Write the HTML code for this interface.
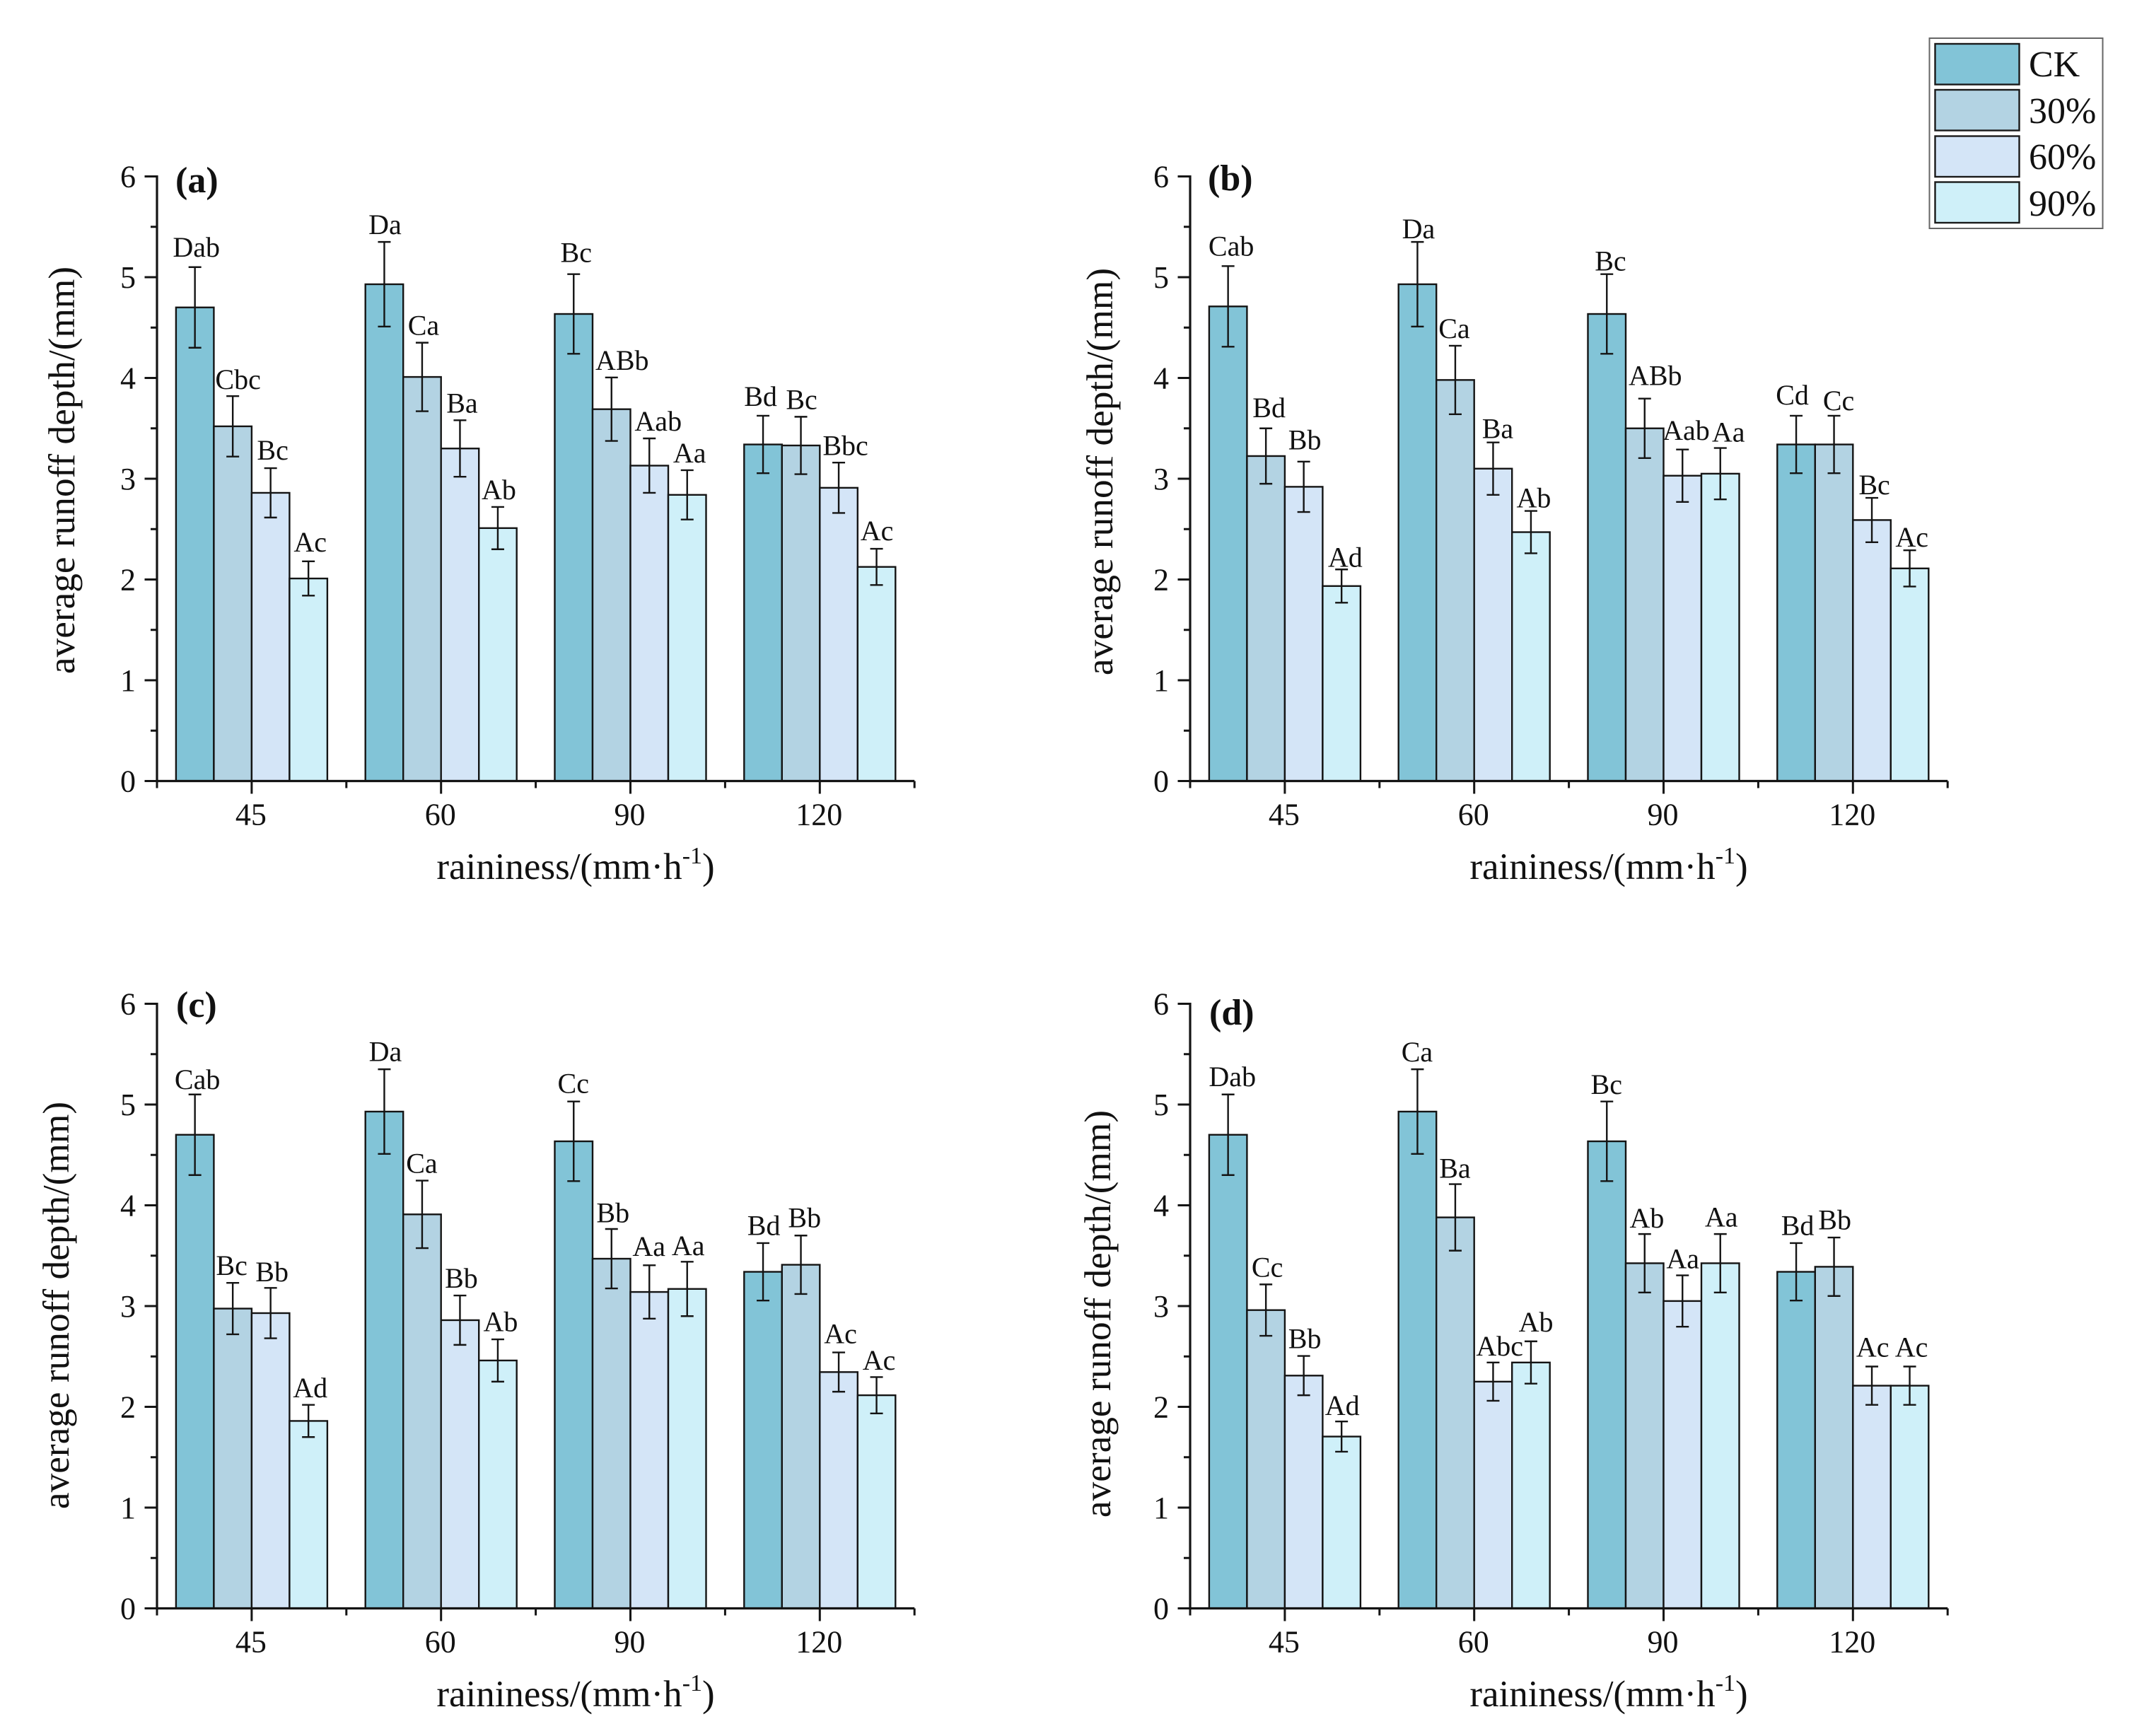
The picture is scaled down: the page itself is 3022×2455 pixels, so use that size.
<!DOCTYPE html>
<html lang="en">
<head>
<meta charset="utf-8">
<title>Average runoff depth by raininess</title>
<style>
html,body{margin:0;padding:0;background:#fff;width:3022px;height:2455px;overflow:hidden}
svg{display:block}
text{font-family:"Liberation Serif","DejaVu Serif",serif;fill:#111}
.tick{font-size:44px}
.mark{font-size:40px}
.title{font-size:53px}
.ytitle{font-size:53.3px}
.tag{font-size:52px;font-weight:bold}
.leg{font-size:52px}
</style>
</head>
<body>
<svg id="figure" xmlns="http://www.w3.org/2000/svg" width="3022" height="2455" viewBox="0 0 3022 2455">
  <rect width="3022" height="2455" fill="#fff"/>

  <g id="panel-a"></g>
  <g id="panel-b"></g>
  <g id="panel-c"></g>
  <g id="panel-d"></g>

  <text class="tag" x="248" y="272">(a)</text>
  <text class="tag" x="1708" y="269">(b)</text>
  <text class="tag" x="249" y="1438">(c)</text>
  <text class="tag" x="1710" y="1449">(d)</text>

  <text class="ytitle" text-anchor="middle" transform="translate(105,665) rotate(-90)">average runoff depth/(mm)</text>
  <text class="ytitle" text-anchor="middle" transform="translate(1573,667) rotate(-90)">average runoff depth/(mm)</text>
  <text class="ytitle" text-anchor="middle" transform="translate(97,1846) rotate(-90)">average runoff depth/(mm)</text>
  <text class="ytitle" text-anchor="middle" transform="translate(1570,1858) rotate(-90)">average runoff depth/(mm)</text>

  <text class="title" text-anchor="middle" x="814" y="1243">raininess/(mm·h<tspan font-size="34" dy="-22">-1</tspan><tspan dy="22">)</tspan></text>
  <text class="title" text-anchor="middle" x="2275" y="1243">raininess/(mm·h<tspan font-size="34" dy="-22">-1</tspan><tspan dy="22">)</tspan></text>
  <text class="title" text-anchor="middle" x="814" y="2413">raininess/(mm·h<tspan font-size="34" dy="-22">-1</tspan><tspan dy="22">)</tspan></text>
  <text class="title" text-anchor="middle" x="2275" y="2413">raininess/(mm·h<tspan font-size="34" dy="-22">-1</tspan><tspan dy="22">)</tspan></text>

  <g>
    <rect x="2728.5" y="54" width="245" height="269" fill="#fff" stroke="#666" stroke-width="2"/>
    <g>
      <rect x="2736.5" y="62" width="119" height="57.5" fill="#82c4d7" stroke="#1a1a1a" stroke-width="2.4"/>
      <text class="leg" x="2869" y="108">CK</text>
    </g>
    <g>
      <rect x="2736.5" y="127" width="119" height="57.5" fill="#b3d3e3" stroke="#1a1a1a" stroke-width="2.4"/>
      <text class="leg" x="2869" y="174">30%</text>
    </g>
    <g>
      <rect x="2736.5" y="192.5" width="119" height="57.5" fill="#d4e5f7" stroke="#1a1a1a" stroke-width="2.4"/>
      <text class="leg" x="2869" y="239">60%</text>
    </g>
    <g>
      <rect x="2736.5" y="257.5" width="119" height="57.5" fill="#cff0f9" stroke="#1a1a1a" stroke-width="2.4"/>
      <text class="leg" x="2869" y="305">90%</text>
    </g>
  </g>
</svg>

<script>
// Shared axis data
const categories = ["45", "60", "90", "120"];
const seriesNames = ["CK", "30%", "60%", "90%"];
const yTickLabels = [0, 1, 2, 3, 4, 5, 6];

// Each array has one row per rainfall category, one column per series (CK, 30%, 60%, 90%).
const valuesA = [[4.70, 3.52, 2.86, 2.01], [4.93, 4.01, 3.30, 2.51], [4.635, 3.69, 3.13, 2.84], [3.34, 3.33, 2.91, 2.125]];
const errorsA = [[0.40, 0.30, 0.245, 0.17], [0.42, 0.34, 0.28, 0.21], [0.395, 0.315, 0.27, 0.245], [0.285, 0.285, 0.25, 0.18]];
const lettersA = [["Dab", "Cbc", "Bc", "Ac"], ["Da", "Ca", "Ba", "Ab"], ["Bc", "ABb", "Aab", "Aa"], ["Bd", "Bc", "Bbc", "Ac"]];

const valuesB = [[4.71, 3.225, 2.92, 1.935], [4.93, 3.98, 3.10, 2.47], [4.635, 3.50, 3.03, 3.05], [3.34, 3.34, 2.59, 2.11]];
const errorsB = [[0.40, 0.275, 0.25, 0.165], [0.42, 0.34, 0.26, 0.21], [0.395, 0.295, 0.26, 0.255], [0.285, 0.285, 0.22, 0.18]];
const lettersB = [["Cab", "Bd", "Bb", "Ad"], ["Da", "Ca", "Ba", "Ab"], ["Bc", "ABb", "Aab", "Aa"], ["Cd", "Cc", "Bc", "Ac"]];

const valuesC = [[4.70, 2.975, 2.93, 1.86], [4.93, 3.91, 2.86, 2.46], [4.635, 3.47, 3.14, 3.17], [3.34, 3.41, 2.345, 2.115]];
const errorsC = [[0.40, 0.255, 0.25, 0.16], [0.42, 0.335, 0.245, 0.21], [0.395, 0.295, 0.265, 0.27], [0.285, 0.29, 0.195, 0.18]];
const lettersC = [["Cab", "Bc", "Bb", "Ad"], ["Da", "Ca", "Bb", "Ab"], ["Cc", "Bb", "Aa", "Aa"], ["Bd", "Bb", "Ac", "Ac"]];

const valuesD = [[4.70, 2.96, 2.31, 1.705], [4.93, 3.88, 2.25, 2.44], [4.635, 3.425, 3.05, 3.425], [3.34, 3.39, 2.21, 2.21]];
const errorsD = [[0.40, 0.255, 0.195, 0.15], [0.42, 0.33, 0.19, 0.21], [0.395, 0.29, 0.255, 0.29], [0.285, 0.29, 0.19, 0.19]];
const lettersD = [["Dab", "Cc", "Bb", "Ad"], ["Ca", "Ba", "Abc", "Ab"], ["Bc", "Ab", "Aa", "Aa"], ["Bd", "Bb", "Ac", "Ac"]];

// Layout only: how far each letter label sits from its error-bar cap.
const labelShiftA = [[[2.5,15],[8,10],[3.5,12],[3,14]], [[1.5,11],[2.5,11],[3.5,11],[2,11]], [[4,17],[15.5,11],[13,11],[4,11]], [[-3,14],[1.5,11],[10,10.6],[1,12]]];
const labelShiftB = [[[5,15],[5,16],[2,17.5],[5.7,4]], [[2,5],[-1,11],[7,6],[4.5,5]], [[5.7,5],[15.5,19],[5.7,13.5],[12,9]], [[-5,16],[7,8],[4,5],[3.7,5]]];
const labelShiftC = [[[4,8],[-1,11.4],[2.5,9.4],[3,10.6]], [[2,11.4],[0,11],[2.5,11],[4.5,11.4]], [[0,12],[2.5,9.4],[0,13.5],[2,9.4]], [[1.6,11.4],[5.7,12],[3,13],[4,10.6]]];
const labelShiftD = [[[6.6,12],[2.5,11],[2,11],[1.5,9]], [[0,11],[0,9],[9.7,10],[7.6,13.7]], [[0,10.6],[3.7,9],[1,10],[2,10.6]], [[2.5,11.4],[1.6,11.4],[1.6,14],[3,14]]];

const seriesFill = ["#82c4d7", "#b3d3e3", "#d4e5f7", "#cff0f9"];
const INK = "#141414";
const NS = "http://www.w3.org/2000/svg";
const UNIT = 142.5;
const CAT_W = 267.8;
const BAR_W = 53.5;

function make(parent, tag, attrs) {
  const el = document.createElementNS(NS, tag);
  for (const k in attrs) el.setAttribute(k, attrs[k]);
  parent.appendChild(el);
  return el;
}

function drawPanel(id, x0, y0, values, errors, letters, shifts) {
  const host = document.getElementById(id);
  const yOf = v => y0 - v * UNIT;
  const catCenter = i => x0 + CAT_W * (i + 0.5);
  const barLeft = (i, s) => catCenter(i) + (s - 2) * BAR_W;
  const xEnd = x0 + CAT_W * categories.length;

  categories.forEach((cat, i) => {
    seriesNames.forEach((ser, s) => {
      const v = values[i][s];
      const bar = make(host, "rect", {
        x: barLeft(i, s), y: yOf(v), width: BAR_W, height: y0 - yOf(v),
        fill: seriesFill[s], stroke: INK, "stroke-width": 2.4
      });
      
      
    });
  });

  categories.forEach((cat, i) => {
    seriesNames.forEach((ser, s) => {
      const v = values[i][s];
      const e = errors[i][s];
      const cx = barLeft(i, s) + BAR_W / 2;
      const top = yOf(v + e);
      const bot = yOf(v - e);
      const eb = make(host, "path", {
        d: "M" + cx + " " + top + "V" + bot + "M" + (cx - 9) + " " + top + "H" + (cx + 9) + "M" + (cx - 9) + " " + bot + "H" + (cx + 9),
        fill: "none", stroke: INK, "stroke-width": 2.4
      });
      
      

      const lab = make(host, "text", {
        class: "mark", "text-anchor": "middle",
        x: cx + shifts[i][s][0] - 0.5, y: top - shifts[i][s][1]
      });
      lab.textContent = letters[i][s];
      
      
    });
  });

  const axis = make(host, "path", {
    d: "M" + x0 + " " + (yOf(6) - 1.5) + "V" + y0 + "H" + xEnd,
    fill: "none", stroke: INK, "stroke-width": 3.2
  });
  
  

  yTickLabels.forEach((t, idx) => {
    const y = yOf(t);
    const major = make(host, "line", { x1: x0 - 17.5, x2: x0, y1: y, y2: y, stroke: INK, "stroke-width": 3 });
    
    

    const lab = make(host, "text", { class: "tick", "text-anchor": "end", x: x0 - 30, y: y + 15 });
    lab.textContent = t;
    
    

    if (idx < yTickLabels.length - 1) {
      const my = yOf(t + 0.5);
      const minor = make(host, "line", { x1: x0 - 9, x2: x0, y1: my, y2: my, stroke: INK, "stroke-width": 3 });
      
      
    }
  });

  categories.forEach((cat, i) => {
    const cx = catCenter(i);
    const major = make(host, "line", { x1: cx, x2: cx, y1: y0, y2: y0 + 18, stroke: INK, "stroke-width": 3 });
    
    

    const lab = make(host, "text", { class: "tick", "text-anchor": "middle", x: cx - 1, y: y0 + 62 });
    lab.textContent = cat;
    
    
  });

  for (let i = 0; i <= categories.length; i++) {
    const bx = x0 + CAT_W * i;
    const minor = make(host, "line", { x1: bx, x2: bx, y1: y0, y2: y0 + 10, stroke: INK, "stroke-width": 3 });
    
    
  }
}

drawPanel("panel-a", 222, 1104.5, valuesA, errorsA, lettersA, labelShiftA);
drawPanel("panel-b", 1683, 1104.5, valuesB, errorsB, lettersB, labelShiftB);
drawPanel("panel-c", 222, 2274.5, valuesC, errorsC, lettersC, labelShiftC);
drawPanel("panel-d", 1683, 2274.5, valuesD, errorsD, lettersD, labelShiftD);
</script>
</body>
</html>
